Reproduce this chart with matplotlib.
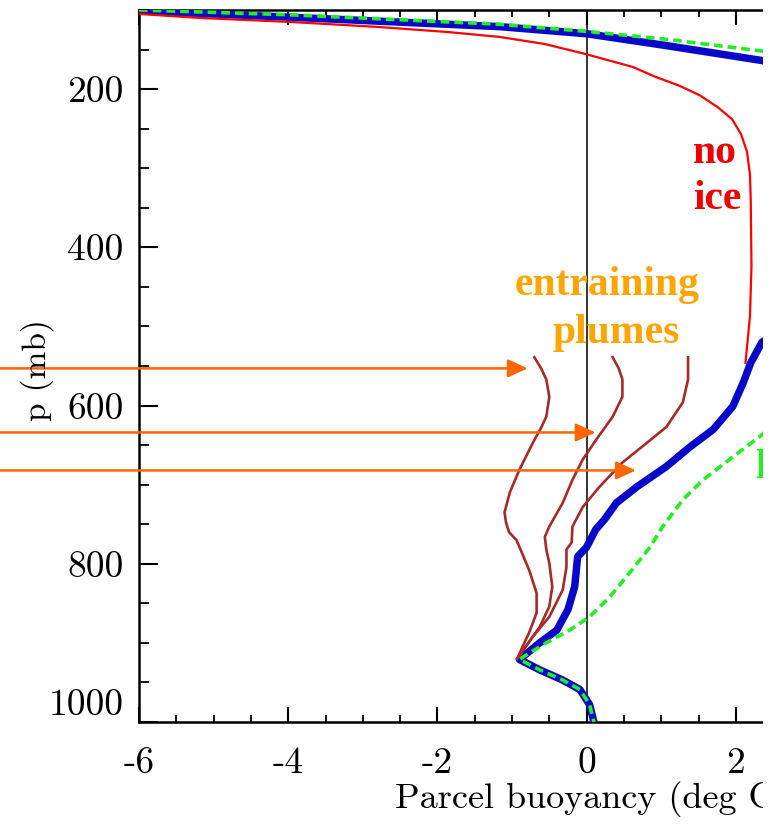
import matplotlib
matplotlib.use("Agg")
import matplotlib.pyplot as plt
from matplotlib.ticker import MultipleLocator
from matplotlib.patches import Rectangle

# ---------------- data (pressure in mb, buoyancy in deg C) ----------------
blue_p = [101, 109, 121, 130, 145, 164, 185, 230, 300, 400, 470, 505, 520, 546,
          571, 601, 630, 652, 677, 703, 723, 744, 757, 779, 791, 810, 829, 858,
          884, 900, 921, 934, 947, 959, 978, 997, 1000]
blue_b = [-6.0, -4.0, -1.17, 0.0, 1.07, 2.36, 3.0, 3.4, 3.6, 3.5, 3.0, 2.6, 2.35,
          2.20, 2.10, 1.96, 1.70, 1.39, 1.07, 0.67, 0.40, 0.24, 0.12, 0.0, -0.12,
          -0.14, -0.16, -0.25, -0.40, -0.63, -0.90, -0.63, -0.32, -0.09, 0.04,
          0.09, 0.10]

green_p = [100, 106, 118, 127, 137, 152, 170, 220, 320, 450, 560, 637, 665, 694,
           719, 753, 779, 811, 842, 867, 884, 900, 913, 921, 934, 947, 959, 978,
           997, 1000]
green_b = [-6.0, -3.99, -1.17, 0.0, 1.07, 2.36, 3.0, 3.6, 3.9, 3.8, 3.2, 2.35,
           1.96, 1.56, 1.29, 1.02, 0.85, 0.58, 0.31, 0.04, -0.23, -0.54, -0.77,
           -0.90, -0.63, -0.32, -0.09, 0.04, 0.09, 0.10]

red_p = [105, 110, 115, 121.5, 128, 134, 143, 156, 172, 184, 196, 208, 223, 238,
         257, 279, 308, 339, 424, 487, 546]
red_b = [-6.0, -5.19, -3.99, -2.78, -1.84, -1.17, -0.56, 0.0, 0.62, 0.91, 1.25,
         1.52, 1.76, 1.95, 2.07, 2.15, 2.19, 2.20, 2.21, 2.19, 2.13]

plume1_p = [539, 553, 567, 589, 614, 630, 647, 681, 710, 735, 748, 760, 770,
            790, 808, 837, 862, 887, 905, 920]
plume1_b = [-0.70, -0.61, -0.54, -0.50, -0.54, -0.62, -0.72, -0.90, -1.03,
            -1.10, -1.08, -1.04, -0.94, -0.85, -0.77, -0.67, -0.67, -0.77,
            -0.86, -0.93]

plume2_p = [539, 553, 567, 589, 614, 643, 668, 694, 723, 753, 766, 782, 799,
            829, 854, 880, 900, 920]
plume2_b = [0.35, 0.43, 0.48, 0.48, 0.35, 0.13, -0.05, -0.19, -0.32, -0.50,
            -0.56, -0.54, -0.50, -0.46, -0.50, -0.63, -0.78, -0.93]

plume3_p = [539, 567, 596, 627, 647, 672, 703, 728, 753, 773, 782, 804, 833,
            867, 892, 920]
plume3_b = [1.36, 1.36, 1.29, 1.07, 0.81, 0.48, 0.17, -0.05, -0.19, -0.20,
            -0.27, -0.27, -0.32, -0.50, -0.72, -0.93]

arrow_p = [553, 634, 682]
arrow_tip = [-0.79, 0.12, 0.66]
arrow_start = -8.3

x_ticks = [-6, -4, -2, 0, 2, 4]
x_ticklabels = ["-6", "-4", "-2", "0", "2", "4"]
y_ticks = [200, 400, 600, 800, 1000]
y_ticklabels = ["200", "400", "600", "800", "1000"]

# ---------------- figure ----------------
plt.rcParams['axes.unicode_minus'] = False
W, H = 774, 826
fig = plt.figure(figsize=(W / 100, H / 100), dpi=100)


def fx(px):
    return px / W


def fy(py):
    return 1 - py / H


ax = fig.add_axes([fx(139), fy(722), fx(885) - fx(139), fy(10) - fy(722)])
ax.set_xlim(-6, 4)
ax.set_ylim(1000, 100)

ax.axvline(0, color='black', lw=1.1, zorder=1)

ax.plot(blue_b, blue_p, color='#0808c8', lw=5.4, solid_capstyle='butt',
        solid_joinstyle='round', zorder=3)
ax.plot(green_b, green_p, color='#22ee22', lw=2.6, dashes=(2.4, 1.4), zorder=4)
ax.plot(red_b, red_p, color='#ff0000', lw=1.6, zorder=3)
for pb, pp in [(plume1_b, plume1_p), (plume2_b, plume2_p), (plume3_b, plume3_p)]:
    ax.plot(pb, pp, color='#a52a2a', lw=1.9, zorder=3, solid_joinstyle='round')

for p, tip in zip(arrow_p, arrow_tip):
    ax.annotate('', xy=(tip, p), xytext=(arrow_start, p),
                arrowprops=dict(arrowstyle='-|>,head_length=1.2,head_width=0.55',
                                color='#ff6600', lw=1.8, shrinkA=0, shrinkB=0),
                annotation_clip=False, zorder=6)

# ticks
tfont = dict(family='cmr10', size=27)
ax.set_xticks(x_ticks)
ax.set_xticklabels(x_ticklabels, fontdict=tfont)
ax.set_yticks(y_ticks)
ax.set_yticklabels(y_ticklabels, fontdict=tfont)
ax.xaxis.set_minor_locator(MultipleLocator(0.5))
ax.yaxis.set_minor_locator(MultipleLocator(50))
ax.tick_params(axis='x', which='major', direction='in', length=11, width=1.5,
               top=True, bottom=True, pad=18)
ax.tick_params(axis='x', which='minor', direction='in', length=5, width=1.3,
               top=True, bottom=True)
ax.tick_params(axis='y', which='major', direction='in', length=14, width=1.5,
               left=True, right=True, pad=11)
ax.tick_params(axis='y', which='minor', direction='in', length=7, width=1.3,
               left=True, right=True)
ylabs = ax.get_yticklabels()
ylabs[-1].set_va('bottom')
for sp in ax.spines.values():
    sp.set_linewidth(1.8)

# labels
fig.text(fx(395), fy(808), "Parcel buoyancy (deg C)", family='cmr10', size=26,
         ha='left', va='baseline')
fig.text(fx(37), fy(370), "p (mb)", family='cmr10', size=24, rotation=90,
         ha='center', va='center')

bold = dict(family='Liberation Serif', weight='bold', size=30)
fig.text(fx(693), fy(163), "no", color='#ee0000', ha='left', va='baseline', **bold)
fig.text(fx(693), fy(209), "ice", color='#ee0000', ha='left', va='baseline', **bold)
fig.text(fx(607), fy(295), "entraining", color='#ffa500', ha='center', va='baseline', **bold)
fig.text(fx(616), fy(343), "plumes", color='#ffa500', ha='center', va='baseline', **bold)
fig.text(fx(755), fy(478), "l", color='#22ee22', ha='left', va='baseline', **bold)

# the reference is cropped at the right
fig.add_artist(Rectangle((fx(763), 0), 1, 1, transform=fig.transFigure,
                         facecolor='white', edgecolor='none', zorder=100))

fig.savefig("out.png", dpi=100)
